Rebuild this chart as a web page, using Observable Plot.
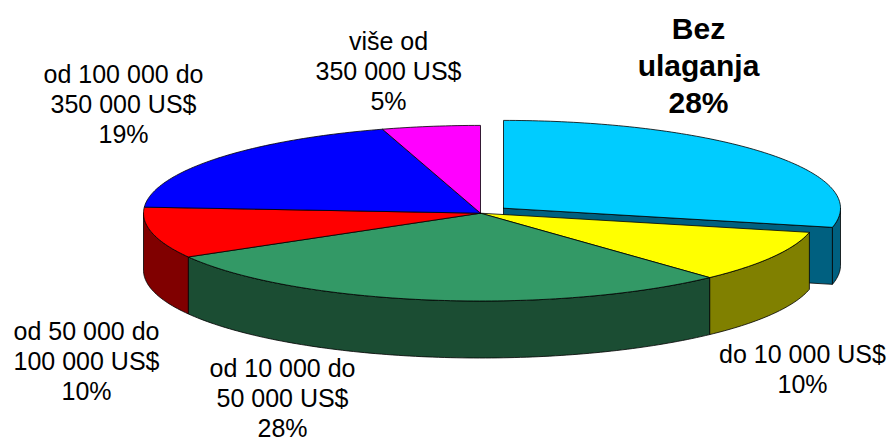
<!DOCTYPE html>
<html>
<head>
<meta charset="utf-8">
<script src="https://cdn.jsdelivr.net/npm/d3@7"></script>
<script src="https://cdn.jsdelivr.net/npm/@observablehq/plot@0.6"></script>
<style>html,body{margin:0;padding:0;background:#fff}svg{display:block}</style>
</head>
<body>
<script>
const categories = ["Bez ulaganja","do 10 000 US$","od 10 000 do 50 000 US$","od 50 000 do 100 000 US$","od 100 000 do 350 000 US$","više od 350 000 US$"];
const shares = [28.5, 9.6, 28.6, 9.4, 19.2, 4.7];
const printed = ["28%","10%","28%","10%","19%","5%"];
const labelTexts = ["Bez\nulaganja\n28%","do 10 000 US$\n10%","od 10 000 do\n50 000 US$\n28%","od 50 000 do\n100 000 US$\n10%","od 100 000 do\n350 000 US$\n19%","više od\n350 000 US$\n5%"];
const topColors = ["#00CCFF","#FFFF00","#339966","#FF0000","#0000FF","#FF00FF"];
const sideColors = ["#006080","#808000","#1B4D33","#800000","#000080","#800080"];

// Layout of the tilted pie
const W = 890, H = 441;
const pie = {cx: 480, cy: 212.7, rx: 337, ry: 87.8, depth: 57};
const explode = {dx: 23, dy: -5};
const labelAt = [[698,64],[802,368],[282,396.5],[86,360],[123,103],[388,70]];

const rad = d => d * Math.PI / 180;
const ends = d3.cumsum(shares).map(v => v * 3.6);
const slices = shares.map((s, i) => ({
  i, a0: i ? ends[i - 1] : 0, a1: ends[i],
  ox: i === 0 ? explode.dx : 0, oy: i === 0 ? explode.dy : 0
}));
const pt = (s, t, z = 0) => ({
  x: pie.cx + s.ox + pie.rx * Math.sin(rad(t)),
  y: pie.cy + s.oy - pie.ry * Math.cos(rad(t)) + z
});
const arc = (s, a, b, z = 0) => {
  const n = Math.max(2, Math.ceil(Math.abs(b - a)));
  return d3.range(n + 1).map(k => pt(s, a + (b - a) * k / n, z));
};
const apex = (s, z = 0) => ({x: pie.cx + s.ox, y: pie.cy + s.oy + z});
const closed = p => [...p, p[0]];
const topFace = s => closed([apex(s), ...arc(s, s.a0, s.a1)]);
// outer wall: only the part facing the viewer (90°..270°)
const wall = s => {
  const a = Math.max(s.a0, 90), b = Math.min(s.a1, 270);
  if (a >= b) return null;
  return closed([...arc(s, a, b), ...arc(s, b, a, pie.depth)]);
};
const radialWall = s => closed([apex(s), pt(s, s.a1), pt(s, s.a1, pie.depth), apex(s, pie.depth)]);

const poly = (p, fill) => Plot.line(p, {x: "x", y: "y", fill, stroke: "#000", strokeWidth: 0.8, strokeLinejoin: "round", curve: "linear"});

const marks = [];
const ex = slices[0];
marks.push(poly(wall(ex), sideColors[0]), poly(radialWall(ex), sideColors[0]), poly(topFace(ex), topColors[0]));
for (const s of slices.slice(1)) { const w = wall(s); if (w) marks.push(poly(w, sideColors[s.i])); }
for (const s of slices.slice(1)) marks.push(poly(topFace(s), topColors[s.i]));

const labels = categories.map((c, i) => ({t: labelTexts[i], x: labelAt[i][0], y: labelAt[i][1], bold: i === 0}));
marks.push(Plot.text(labels.filter(d => !d.bold), {x: "x", y: "y", text: "t", fontSize: 25, lineHeight: 1.2, fill: "#000", textAnchor: "middle", lineAnchor: "middle"}));
marks.push(Plot.text(labels.filter(d => d.bold), {x: "x", y: "y", text: "t", fontSize: 30, fontWeight: "bold", lineHeight: 1.23, fill: "#000", textAnchor: "middle", lineAnchor: "middle"}));

document.body.append(Plot.plot({
  width: W, height: H,
  margin: 0,
  x: {domain: [0, W], range: [0, W], axis: null},
  y: {domain: [0, H], range: [0, H], axis: null},
  style: {fontFamily: "'Liberation Sans', Arial, sans-serif", background: "#fff"},
  marks
}));
</script>
</body>
</html>
